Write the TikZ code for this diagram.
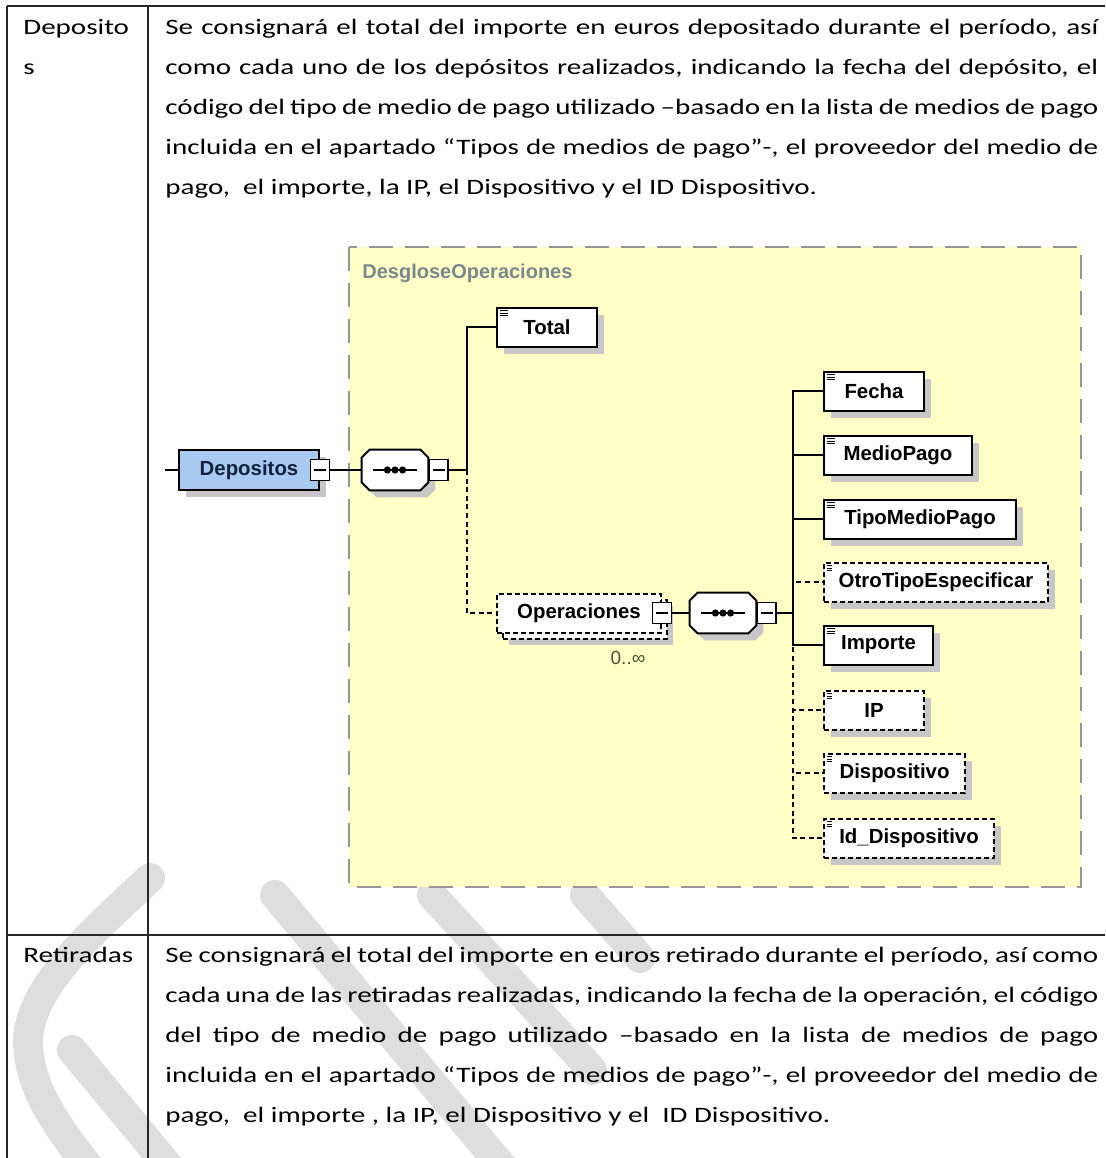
\documentclass[tikz,border=0pt]{standalone}
\usepackage{fontspec}
\setmainfont{Carlito}[FakeStretch=1.32]
\newfontfamily\xsdfont{Liberation Sans}
\usetikzlibrary{positioning, shadows}
\definecolor{grpfill}{RGB}{255,255,198}
\definecolor{grpline}{RGB}{150,150,150}
\definecolor{grptext}{RGB}{122,136,140}
\definecolor{rootfill}{RGB}{168,202,240}
\definecolor{rootink}{RGB}{20,32,64}
\definecolor{cardink}{RGB}{70,85,50}
\newcommand\jl[1]{\hbox to\hsize{#1}}
% octogono del compositor de secuencia
\newcommand\octpath[1]{([xshift=4pt]#1.north west) -- ([xshift=-4pt]#1.north east) -- ([yshift=-4pt]#1.north east)
  -- ([yshift=4pt]#1.south east) -- ([xshift=-4pt]#1.south east) -- ([xshift=4pt]#1.south west)
  -- ([yshift=4pt]#1.south west) -- ([yshift=-4pt]#1.north west) -- cycle}
\newcommand\seqsym[1]{%
  \fill[black!22,transform canvas={shift={(3.5pt,-3.5pt)}}] \octpath{#1};
  \draw[line width=1pt,fill=white] \octpath{#1};
  \draw[line width=1pt] ([xshift=-11pt]#1.center) -- ([xshift=11pt]#1.center);
  \fill ([xshift=-3.8pt]#1.center) circle (1.8pt) (#1.center) circle (1.8pt) ([xshift=3.8pt]#1.center) circle (1.8pt);}

\begin{document}
\begin{tikzpicture}[x=0.5pt,y=-0.5pt,
  rule/.style={line width=1pt,draw=black!85},
  wm/.style={line width=15pt,draw=black!13,line cap=round},
  cell/.style={anchor=base west,inner sep=0pt,font=\fontsize{11}{20}\selectfont},
  grp/.style={draw=grpline,fill=grpfill,line width=1pt,dash pattern=on 12pt off 6pt},
  box/.style={draw,line width=1pt,fill=white,minimum height=19.5pt,inner sep=0pt,font=\xsdfont\bfseries\fontsize{10.2}{12}\selectfont},
  sh/.style={drop shadow={shadow xshift=3.5pt,shadow yshift=-3.5pt,fill=black!22,opacity=1}},
  el/.style={box,sh,anchor=west,path picture={\draw[line width=.55pt]
    ([xshift=1.6pt,yshift=-1.6pt]path picture bounding box.north west) -- ++(3.8pt,0pt)
    ++(-3.8pt,-1.3pt) -- ++(3.8pt,0pt) ++(-3.8pt,-1.3pt) -- ++(3.8pt,0pt);}},
  opt/.style={dash pattern=on 2.5pt off 1.5pt},
  rep/.style={box,opt,anchor=west,drop shadow={shadow xshift=6pt,shadow yshift=-6pt,fill=black!22,opacity=1},
    general shadow={shadow xshift=3pt,shadow yshift=-3pt,draw=black,fill=white,line width=1pt,dash pattern=on 2.5pt off 1.5pt}},
  root/.style={box,sh,fill=rootfill,text=rootink,minimum width=70pt,minimum height=20pt},
  seq/.style={minimum width=33pt,minimum height=20pt,inner sep=0pt},
  mn/.style={draw,line width=.8pt,fill=white,minimum width=9.5pt,minimum height=10.5pt,inner sep=0pt,path picture={
    \draw[line width=.8pt] ([xshift=1.8pt]path picture bounding box.west) -- ([xshift=-1.8pt]path picture bounding box.east);}},
  ln/.style={line width=1pt},
  dl/.style={line width=1pt,dash pattern=on 2.5pt off 1.8pt}]
\useasboundingbox (0,0) rectangle (1105,1158);

% marca de agua
\draw[wm] (150,878) .. controls (95,930) and (30,985) .. (28,1040) .. controls (28,1090) and (60,1130) .. (95,1175);
\draw[wm] (72,1050) -- (170,1168) (275,895) -- (505,1170) (432,895) -- (592,1070) (585,895) -- (640,958);

% tabla
\draw[rule] (7,6) -- (1105,6) (7,6) -- (7,1158) (148,6) -- (148,1158) (7,935) -- (1105,935);
\node[cell] (k1) at (23,34) {\parbox[t]{110pt}{\hbox{Deposito}\hbox{s}}};
\node[cell] (t1) at (165,34) {\parbox[t]{466.5pt}{%
  \jl{Se consignará el total del importe en euros depositado durante el período, así}
  \jl{como cada uno de los depósitos realizados, indicando la fecha del depósito, el}
  \jl{código del tipo de medio de pago utilizado –basado en la lista de medios de pago}
  \jl{incluida en el apartado “Tipos de medios de pago”-, el proveedor del medio de}
  \hbox{pago,~ el importe, la IP, el Dispositivo y el ID Dispositivo.}}};
\node[cell] (k2) at (23,962) {Retiradas};
\node[cell] (t2) at (165,962) {\parbox[t]{466.5pt}{%
  \jl{Se consignará el total del importe en euros retirado durante el período, así como}
  \jl{cada una de las retiradas realizadas, indicando la fecha de la operación, el código}
  \jl{del tipo de medio de pago utilizado –basado en la lista de medios de pago}
  \jl{incluida en el apartado “Tipos de medios de pago”-, el proveedor del medio de}
  \hbox{pago,~ el importe , la IP, el Dispositivo y el~ ID Dispositivo.}}};

% esquema
\draw[grp] (349,247) rectangle (1081,887);
\node[anchor=west,inner sep=0pt,text=grptext,font=\xsdfont\bfseries\fontsize{10}{12}\selectfont] (gl) at (362,273) {DesgloseOperaciones};
\coordinate (in) at (165,470);
\node[root] (dep) at (249,470) {Depositos};\node[mn] (depm) at (dep.east) {};
\node[seq] (s1) at (395,470) {};\seqsym{s1}\node[mn,right=0pt of s1] (s1m) {};
\coordinate (j1) at (467,470);
\node[el,minimum width=50pt] (tot) at (496,327) {Total};
\node[rep,minimum width=82pt] (ops) at (496,613) {Operaciones};\node[mn] (opsm) at (ops.east) {};
\node[inner sep=0pt,text=cardink,font=\xsdfont\fontsize{9.5}{11}\selectfont] (card) at (628,658) {0..∞};
\node[seq] (s2) at (723,613) {};\seqsym{s2}\node[mn,right=0pt of s2] (s2m) {};
\coordinate (j2) at (793,613);
\node[el,minimum width=50pt] (fe) at (823,391) {Fecha};
\node[el,minimum width=74pt] (mp) at (823,455) {MedioPago};
\node[el,minimum width=96pt] (tmp) at (823,519) {TipoMedioPago};
\node[el,opt,minimum width=112pt] (ot) at (823,582) {OtroTipoEspecificar};
\node[el,minimum width=54.5pt] (im) at (823,645) {Importe};
\node[el,opt,minimum width=50pt] (ip) at (823,710) {IP};
\node[el,opt,minimum width=70.5pt] (dv) at (823,773) {Dispositivo};
\node[el,opt,minimum width=85pt] (idd) at (823,838) {Id\_Dispositivo};

\draw[ln] (in) -- (dep) (depm) -- (s1) (s1m) -- (j1) (opsm) -- (s2) (s2m) -- (j2);
\draw[dl] (j1) |- (ops.west);
\draw[ln] (j1) |- (tot.west);
\draw[dl] (j2) |- (ot.west) (j2) |- (ip.west) (j2) |- (dv.west) (j2) |- (idd.west);
\draw[ln] (j2) |- (fe.west) (j2) |- (mp.west) (j2) |- (tmp.west) (j2) |- (im.west);
\end{tikzpicture}
\end{document}
